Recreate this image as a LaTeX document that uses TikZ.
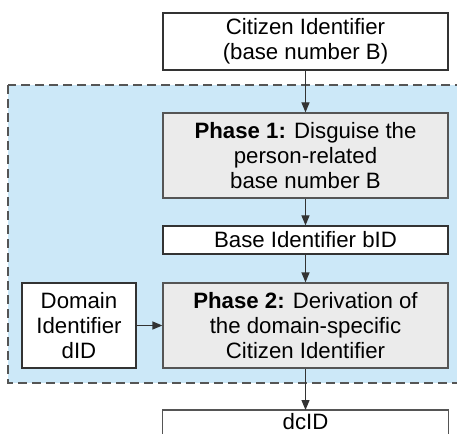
\documentclass[tikz,border=0pt]{standalone}
\usepackage{fontspec}
\setmainfont{Liberation Sans}
\usetikzlibrary{arrows.meta}
\definecolor{regionblue}{HTML}{CCE8F8}
\definecolor{phasegray}{HTML}{EBEBEB}
\definecolor{borderdark}{HTML}{333333}
\definecolor{bordergray}{HTML}{555555}
\tikzset{
  boxfont/.style={font=\fontsize{22.3}{25.5}\selectfont},
  box/.style={draw=borderdark, line width=1.2bp, fill=white, inner sep=0pt, align=center, boxfont},
  phasebox/.style={box, draw=bordergray, fill=phasegray},
  openbox/.style={fill=white, inner sep=0pt, align=center, boxfont},
  openborder/.style={draw=bordergray, line width=1.2bp},
  flow/.style={draw=borderdark, line width=1.2bp, -{Triangle[length=10bp,width=8bp]}},
  region/.style={draw=bordergray, dashed, dash pattern=on 9bp off 5bp, line width=1.2bp, fill=regionblue}
}
\begin{document}
\begin{tikzpicture}[x=1bp,y=-1bp]
\useasboundingbox (0,0) rectangle (457,434);
\clip (0,0) rectangle (457,434);
\draw[region] (8,85) rectangle (470,383);
\node[box, minimum width=285bp, minimum height=57bp] (cid) at (305.5,41.5) {Citizen Identifier\\(base number B)};
\node[phasebox, minimum width=285bp, minimum height=85bp] (p1) at (305.5,155.5) {\textbf{Phase 1:} Disguise the\\person-related\\base number B};
\node[box, minimum width=285bp, minimum height=28bp] (bid) at (305.5,240) {Base Identifier bID};
\node[phasebox, minimum width=285bp, minimum height=85bp] (p2) at (305.5,325.5) {\textbf{Phase 2:} Derivation of\\the domain-specific\\Citizen Identifier};
\node[box, minimum width=114bp, minimum height=85bp] (did) at (79,325.5) {Domain\\Identifier\\dID};
\node[openbox, minimum width=285bp, minimum height=23bp, anchor=north] (dcid) at (305.5,410) {dcID};
\draw[openborder] ([yshift=-6bp]dcid.south west) -- (dcid.north west) -- (dcid.north east) -- ([yshift=-6bp]dcid.south east);
\draw[flow] (cid) -- (p1);
\draw[flow] (p1) -- (bid);
\draw[flow] (bid) -- (p2);
\draw[flow] (p2) -- (dcid);
\draw[flow] (did) -- (p2);
\end{tikzpicture}
\end{document}
